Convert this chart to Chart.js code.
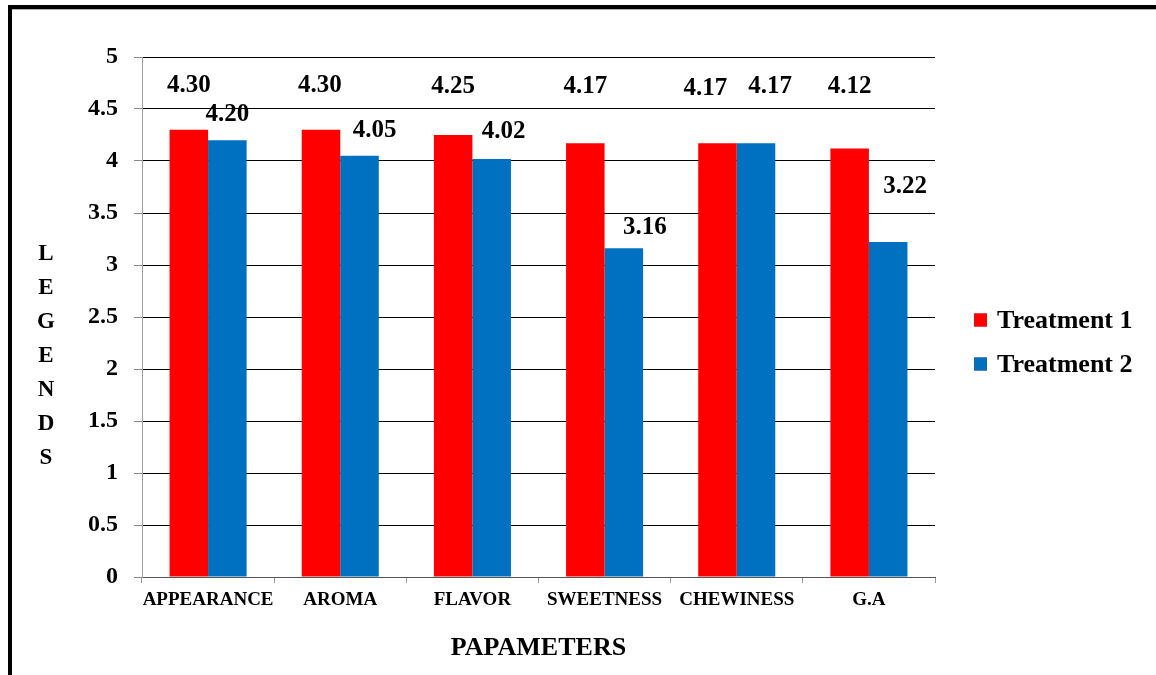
<!DOCTYPE html>
<html>
<head>
<meta charset="utf-8">
<script src="https://cdn.jsdelivr.net/npm/chart.js@4.4.1/dist/chart.umd.min.js"></script>
<style>
  html, body { margin: 0; padding: 0; background: #ffffff; }
  #wrap { width: 1156px; height: 675px; position: relative; }
</style>
</head>
<body>
<div id="wrap"><canvas id="c" width="1156" height="675"></canvas></div>
<script>
// Sensory scores per parameter
const categories = ['APPEARANCE', 'AROMA', 'FLAVOR', 'SWEETNESS', 'CHEWINESS', 'G.A'];
const treatment1 = [4.30, 4.30, 4.25, 4.17, 4.17, 4.12];
const treatment2 = [4.20, 4.05, 4.02, 3.16, 4.17, 3.22];
const seriesNames = ['Treatment 1', 'Treatment 2'];
const yAxisTitle = 'LEGENDS';
const xAxisTitle = 'PAPAMETERS';

const SERIF = "'Times New Roman', 'Liberation Serif', serif";
const RED = '#FF0000';
const BLUE = '#0070C0';

// Label nudges (px) relative to each bar's top, per series
const labelNudge = [
  { dx: [0, -1, 0, 0, -12, 0], dy: [-44, -44, -48, -57, -55, -62] },
  { dx: [0, 15, 12, 21, 14, 17], dy: [-26, -25, -27, -21, -57, -56] }
];

const framePlugin = {
  id: 'frame',
  beforeDraw(chart) {
    const ctx = chart.ctx;
    ctx.save();
    ctx.fillStyle = '#ffffff';
    ctx.fillRect(0, 0, chart.width, chart.height);
    ctx.fillStyle = '#000000';
    ctx.fillRect(8, 5, chart.width - 8, 4);
    ctx.fillRect(8, 5, 4, chart.height - 5);
    ctx.fillStyle = '#b0b0b0';
    ctx.fillRect(12, 9, chart.width - 12, 1);
    ctx.restore();
  }
};

const valueLabelPlugin = {
  id: 'valueLabels',
  afterDatasetsDraw(chart) {
    const ctx = chart.ctx;
    ctx.save();
    ctx.font = 'bold 25px ' + SERIF;
    ctx.fillStyle = '#000000';
    ctx.textAlign = 'center';
    ctx.textBaseline = 'middle';
    chart.data.datasets.forEach((ds, di) => {
      const meta = chart.getDatasetMeta(di);
      meta.data.forEach((bar, i) => {
        const n = labelNudge[di];
        ctx.fillText(ds.data[i].toFixed(2), bar.x + n.dx[i], bar.y + n.dy[i]);
      });
    });
    ctx.restore();
  }
};

const sideTitlePlugin = {
  id: 'sideTitle',
  afterDraw(chart) {
    const ctx = chart.ctx;
    ctx.save();
    ctx.font = 'bold 23px ' + SERIF;
    ctx.fillStyle = '#000000';
    ctx.textAlign = 'center';
    ctx.textBaseline = 'middle';
    const letters = yAxisTitle.split('');
    const step = 34;
    const midY = (chart.chartArea.top + chart.chartArea.bottom) / 2 + 39;
    const startY = midY - step * (letters.length - 1) / 2;
    letters.forEach((ch, i) => ctx.fillText(ch, 46, startY + i * step));
    ctx.restore();
  }
};

const sideLegendPlugin = {
  id: 'sideLegend',
  afterDraw(chart) {
    const ctx = chart.ctx;
    ctx.save();
    ctx.font = 'bold 26px ' + SERIF;
    ctx.textAlign = 'left';
    ctx.textBaseline = 'middle';
    const x = 974, y0 = 320, gap = 44, box = 13;
    chart.data.datasets.forEach((ds, i) => {
      const y = y0 + i * gap;
      ctx.fillStyle = ds.backgroundColor;
      ctx.fillRect(x, y - box / 2, box, box);
      ctx.strokeStyle = ds.borderColor;
      ctx.lineWidth = 1;
      ctx.strokeRect(x + 0.5, y - box / 2 + 0.5, box - 1, box - 1);
      ctx.fillStyle = '#000000';
      ctx.fillText(ds.label, x + box + 10, y + 1);
    });
    ctx.restore();
  }
};

new Chart(document.getElementById('c'), {
  type: 'bar',
  data: {
    labels: categories,
    datasets: [
      { label: seriesNames[0], data: treatment1, backgroundColor: RED, borderColor: '#E81010', borderWidth: 0 },
      { label: seriesNames[1], data: treatment2, backgroundColor: BLUE, borderColor: '#1A66A8', borderWidth: 0 }
    ]
  },
  options: {
    responsive: false,
    animation: false,
    devicePixelRatio: 1,
    layout: { padding: { top: 57, right: 221, bottom: 0, left: 0 } },
    datasets: { bar: { categoryPercentage: 0.583, barPercentage: 1.0 } },
    plugins: {
      legend: { display: false },
      tooltip: { enabled: false }
    },
    scales: {
      x: {
        afterFit(scale) { scale.height = 98; },
        grid: {
          display: true,
          drawOnChartArea: false,
          drawTicks: true,
          tickLength: 6,
          tickColor: '#9a9a9a',
          offset: true
        },
        border: { display: true, color: '#555555', width: 1 },
        ticks: {
          color: '#000000',
          font: { family: SERIF, size: 19, weight: 'bold' },
          padding: 6,
          maxRotation: 0,
          autoSkip: false
        },
        title: {
          display: true,
          text: xAxisTitle,
          color: '#000000',
          font: { family: SERIF, size: 26, weight: 'bold' },
          padding: { top: 0, bottom: 11 }
        }
      },
      y: {
        min: 0,
        max: 5,
        afterFit(scale) { scale.width = 142; },
        grid: {
          color: '#000000',
          lineWidth: 1,
          drawTicks: true,
          tickLength: 8,
          tickColor: '#8a8a8a'
        },
        border: { display: true, color: '#a0a0a0', width: 1 },
        ticks: {
          stepSize: 0.5,
          color: '#000000',
          padding: 16,
          font: { family: SERIF, size: 24, weight: 'bold' },
          callback: (v) => String(Number(v))
        },
        title: { display: false }
      }
    }
  },
  plugins: [framePlugin, valueLabelPlugin, sideTitlePlugin, sideLegendPlugin]
});
</script>
</body>
</html>
